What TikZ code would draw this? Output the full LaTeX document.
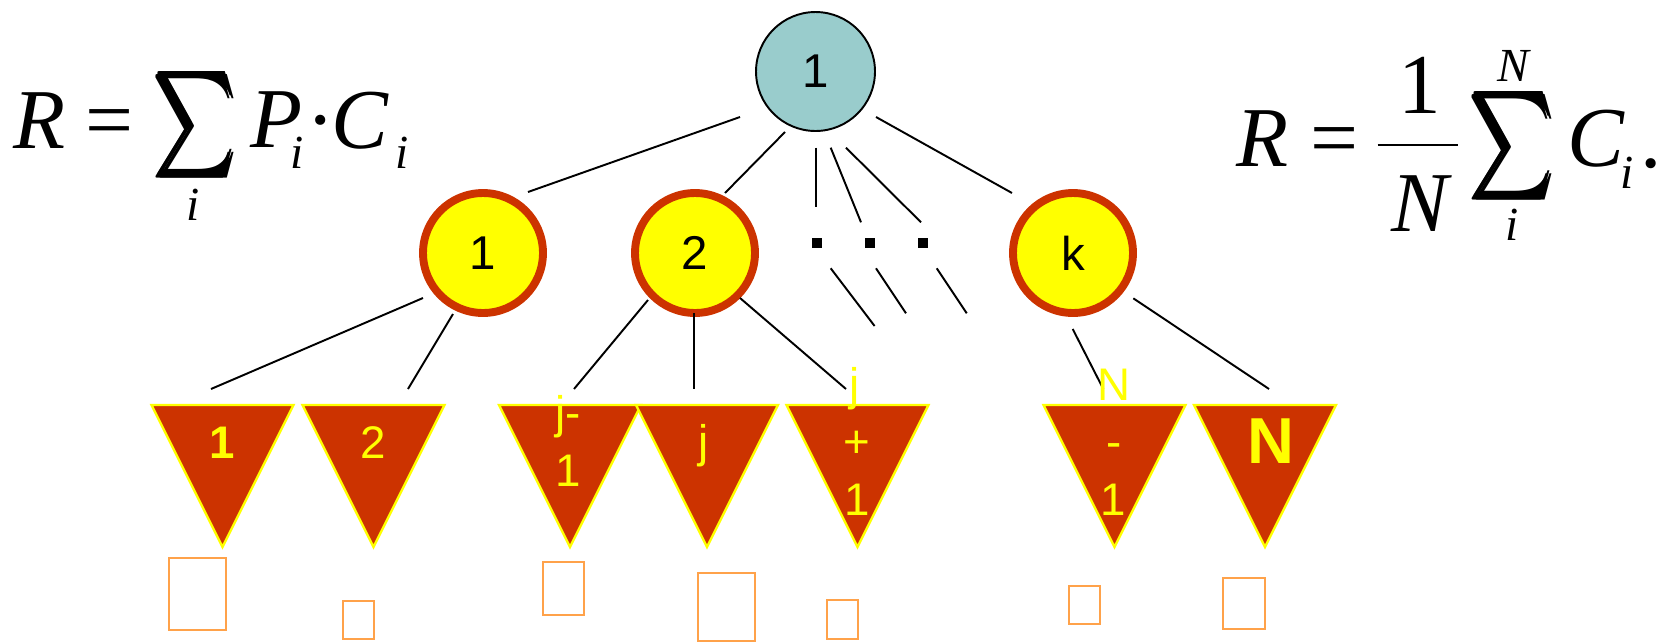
\documentclass[tikz,border=0pt]{standalone}
\usepackage{amsmath}
\usepackage{fontspec}
\usepackage{graphicx}
\setmainfont{Liberation Serif}
\newfontfamily\arialf{Liberation Sans}
\definecolor{tealc}{HTML}{99CCCC}
\definecolor{rust}{HTML}{CC3300}
\definecolor{yel}{HTML}{FFFF00}
\definecolor{orng}{HTML}{FFA24A}
\tikzset{
  rootnode/.style={circle, draw=black, line width=1.1pt, fill=tealc, minimum size=2.38cm, inner sep=0pt, font=\arialf\fontsize{27}{32}\selectfont},
  midnode/.style={circle, draw=rust, line width=4.5pt, fill=yel, minimum size=2.4cm, inner sep=0pt, font=\arialf\fontsize{27}{32}\selectfont},
  edge/.style={draw=black, line width=1.1pt},
  tri/.style={fill=rust, draw=yel, line width=1.3pt, line join=miter},
  trilab/.style={text=yel, inner sep=0pt, anchor=base, font=\arialf\fontsize{26}{30}\selectfont},
  sqr/.style={draw=orng, line width=1.2pt},
  dotsq/.style={fill=black, minimum size=0.2cm, inner sep=0pt},
  fml/.style={inner sep=0pt, anchor=base west, font=\fontsize{48.5}{58}\selectfont},
  fmlc/.style={inner sep=0pt, anchor=base, font=\fontsize{48.5}{58}\selectfont},
  fmls/.style={inner sep=0pt, anchor=base, font=\fontsize{27}{32}\selectfont\itshape},
}
\begin{document}
\begin{tikzpicture}[x=0.02cm,y=-0.02cm]
\useasboundingbox (0,0) rectangle (1660,643);

% formulas left
\node[fml] (lR) at (13,148) {\itshape R};
\node[fml] (leq) at (85,148) {=};
\node[inner sep=0pt] (lsig) at (196.5,125) {\resizebox*{1.66cm}{2.13cm}{$\pmb{\sum}$}};
\node[fmls] (lsi) at (193.5,220) {i};
\node[fml] (lP) at (250,147) {\itshape P};
\node[fmls] (lPi) at (297,168) {i};
\node[fmlc] (ldot) at (321,148) {·};
\node[fml] (lC) at (331,148) {\itshape C};
\node[fmls] (lCi) at (402,168) {i};

% formulas right
\node[fml] (rR) at (1236,166.7) {\itshape R};
\node[fml] (req) at (1310,166.7) {=};
\node[fmlc] (rone) at (1420,113.3) {1};
\coordinate (fbl) at (1377.7,145);
\coordinate (fbr) at (1458.3,145);
\draw[line width=1.4pt] (fbl) -- (fbr);
\node[fmlc] (rN) at (1420,231.7) {\itshape N};
\node[inner sep=0pt] (rsig) at (1514,145.8) {\resizebox*{1.7cm}{2.17cm}{$\pmb{\sum}$}};
\node[fmls] (rNt) at (1513.5,81.7) {N};
\node[fmls] (rsi) at (1512.5,240) {i};
\node[fml] (rC) at (1567,166.7) {\itshape C};
\node[fmls] (rCi) at (1626.7,188) {i};
\node[fmlc] (rpt) at (1651,167) {.};

% tree nodes
\node[rootnode] (root) at (815.5,71.5) {1};
\node[midnode] (c1) at (483,253) {1};
\node[midnode] (c2) at (695,253) {2};
\node[midnode] (ck) at (1073,253) {k};
\node[dotsq] (d1) at (817,243) {};
\node[dotsq] (d2) at (870,243) {};
\node[dotsq] (d3) at (923,243) {};

% connectors (free ends)
\coordinate (r1a) at (740,117);   \coordinate (r1b) at (528,192);
\coordinate (r2a) at (785,132);   \coordinate (r2b) at (725,193);
\coordinate (r3a) at (815.7,147.7); \coordinate (r3b) at (815.7,207.3);
\coordinate (r4a) at (830.7,147.7); \coordinate (r4b) at (861,222.3);
\coordinate (r5a) at (846,147.7); \coordinate (r5b) at (921,222.3);
\coordinate (r6a) at (876,117);   \coordinate (r6b) at (1012,193);
\coordinate (a1a) at (423,298);   \coordinate (a1b) at (211,389);
\coordinate (a2a) at (453,314);   \coordinate (a2b) at (408,389);
\coordinate (b1a) at (648,300);   \coordinate (b1b) at (574,389);
\coordinate (b2a) at (694,313);   \coordinate (b2b) at (694,389);
\coordinate (b3a) at (740,298);   \coordinate (b3b) at (846,389);
\coordinate (e1a) at (830.7,268.3); \coordinate (e1b) at (874.6,326);
\coordinate (e2a) at (876,268.3); \coordinate (e2b) at (906,313.3);
\coordinate (e3a) at (936.7,268.3); \coordinate (e3b) at (966.7,313.3);
\coordinate (k1a) at (1072.7,329); \coordinate (k1b) at (1103.3,389);
\coordinate (k2a) at (1133.3,298.3); \coordinate (k2b) at (1269,389);
\foreach \p in {r1,r2,r3,r4,r5,r6,a1,a2,b1,b2,b3,e1,e2,e3,k1,k2}
  \draw[edge] (\p a) -- (\p b);

% triangles
\foreach \x in {222.5,373.5,570,707,857.5,1114.5,1265}
  \filldraw[tri] (\x-71,405) -- (\x+71,405) -- (\x,547) -- cycle;

% triangle labels
\node[trilab, font=\arialf\bfseries\fontsize{26}{30}\selectfont] (t1) at (222,458) {1};
\node[trilab] (t2) at (373.5,458) {2};
\node[trilab] (tjm1a) at (568.5,428) {j-};
\node[trilab] (tjm1b) at (568.5,486.7) {1};
\node[trilab] (tj) at (704,457) {j};
\node[trilab] (tjp1a) at (855,400) {j};
\node[trilab] (tjp1b) at (856.5,457) {+};
\node[trilab] (tjp1c) at (857.5,515) {1};
\node[trilab] (tnm1a) at (1114,400) {N};
\node[trilab] (tnm1b) at (1114.5,457) {-};
\node[trilab] (tnm1c) at (1113.5,515) {1};
\node[trilab, font=\arialf\bfseries\fontsize{37}{44}\selectfont] (tn) at (1270.5,463.3) {N};

% empty boxes
\draw[sqr] (168.7,558.3) rectangle (226.1,630);
\draw[sqr] (343.3,600.7) rectangle (374.4,639.3);
\draw[sqr] (542.7,562.3) rectangle (583.9,615);
\draw[sqr] (698.2,573.3) rectangle (754.6,641);
\draw[sqr] (827.3,600) rectangle (858.4,639.3);
\draw[sqr] (1068.7,585.7) rectangle (1100,624.3);
\draw[sqr] (1222.7,577.7) rectangle (1265,629.3);
\end{tikzpicture}
\end{document}
